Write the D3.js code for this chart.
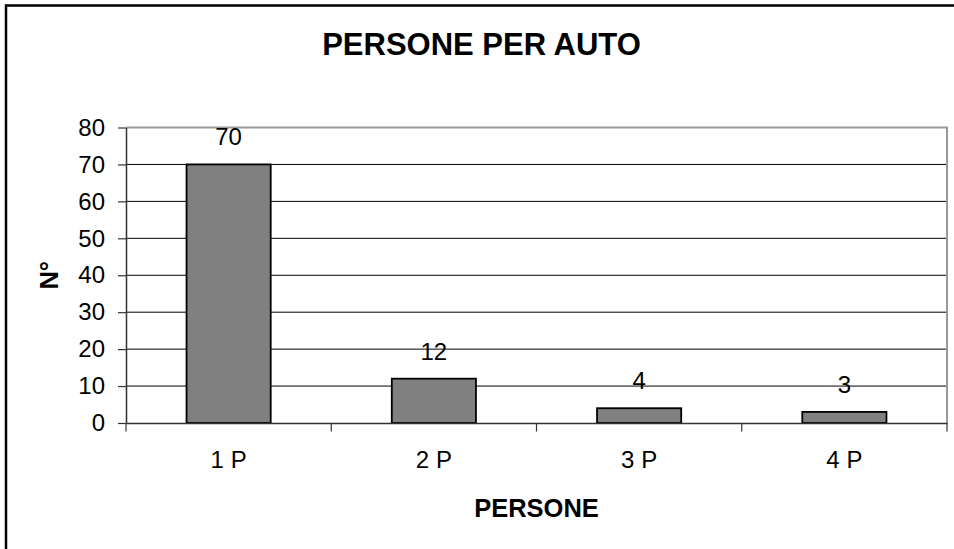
<!DOCTYPE html>
<html>
<head>
<meta charset="utf-8">
<script src="https://cdn.jsdelivr.net/npm/d3@7"></script>
<style>
    body { margin: 0; background: #fff; }
    svg { display: block; font-family: "Liberation Sans", Arial, sans-serif; }
    .tick text { font-size: 24px; fill: #000; }
</style>
</head>
<body>
<div id="chart"></div>
<script>
const categories = ["1 P", "2 P", "3 P", "4 P"];
const values = [70, 12, 4, 3];
const yTicks = [0, 10, 20, 30, 40, 50, 60, 70, 80];

const width = 954;
const height = 549;
const margin = { top: 127.5, right: 7, bottom: 126, left: 126 };

const svg = d3.select("#chart")
    .append("svg")
    .attr("width", width)
    .attr("height", height);

// outer frame (runs off the right and bottom edge)
svg.append("rect")
    .attr("x", 6)
    .attr("y", 5.5)
    .attr("width", 1200)
    .attr("height", 1200)
    .attr("fill", "#fff")
    .attr("stroke", "#000")
    .attr("stroke-width", 2.5);

const x = d3.scaleBand()
    .domain(categories)
    .range([margin.left, width - margin.right])
    .paddingInner(0.59)
    .paddingOuter(0.295);

const y = d3.scaleLinear()
    .domain([0, 80])
    .range([height - margin.bottom, margin.top]);

// gridlines
svg.append("g")
    .selectAll("line")
    .data(yTicks.filter(d => d > 0 && d < 80))
    .enter()
    .append("line")
    .attr("x1", x.range()[0])
    .attr("x2", x.range()[1])
    .attr("y1", d => y(d))
    .attr("y2", d => y(d))
    .attr("stroke", "#000")
    .attr("stroke-width", 1);

// plot frame top/right
svg.append("path")
    .attr("d", `M${x.range()[0]},${y(80)}H${x.range()[1]}V${y(0)}`)
    .attr("fill", "none")
    .attr("stroke", "#999")
    .attr("stroke-width", 2);

svg.selectAll(".bar")
    .data(values)
    .enter()
    .append("rect")
    .attr("class", "bar")
    .attr("x", (d, i) => x(categories[i]))
    .attr("y", d => y(d))
    .attr("width", x.bandwidth())
    .attr("height", d => y(0) - y(d))
    .attr("fill", "#808080")
    .attr("stroke", "#000")
    .attr("stroke-width", 1.8);

svg.selectAll(".value-label")
    .data(values)
    .enter()
    .append("text")
    .attr("class", "value-label")
    .attr("x", (d, i) => x(categories[i]) + x.bandwidth() / 2)
    .attr("y", d => y(d) - 19)
    .attr("text-anchor", "middle")
    .attr("font-size", 24)
    .text(d => d);

// y axis
const yAxis = svg.append("g")
    .attr("transform", `translate(${margin.left},0)`)
    .call(d3.axisLeft(y).tickValues(yTicks).tickSize(8).tickSizeOuter(0).tickPadding(13));
yAxis.select(".domain").attr("stroke", "#333").attr("stroke-width", 1.5);
yAxis.selectAll(".tick line").attr("stroke", "#333").attr("stroke-width", 1.2);

// x axis: labels under bars, ticks on category boundaries
const xAxis = svg.append("g")
    .attr("transform", `translate(0,${y(0)})`)
    .call(d3.axisBottom(x).tickSize(0).tickPadding(27.5));
xAxis.select(".domain").attr("stroke", "#333").attr("stroke-width", 1.5);

svg.append("g")
    .selectAll("line")
    .data(d3.range(categories.length + 1))
    .enter()
    .append("line")
    .attr("x1", i => x.range()[0] + i * x.step())
    .attr("x2", i => x.range()[0] + i * x.step())
    .attr("y1", y(0))
    .attr("y2", y(0) + 8.5)
    .attr("stroke", "#333")
    .attr("stroke-width", 1.2);

svg.append("text")
    .attr("x", (x.range()[0] + x.range()[1]) / 2 - 55)
    .attr("y", 55)
    .attr("text-anchor", "middle")
    .attr("font-size", 31)
    .attr("font-weight", "bold")
    .text("PERSONE PER AUTO");

svg.append("text")
    .attr("x", (x.range()[0] + x.range()[1]) / 2)
    .attr("y", 517)
    .attr("text-anchor", "middle")
    .attr("font-size", 25.5)
    .attr("font-weight", "bold")
    .text("PERSONE");

svg.append("text")
    .attr("transform", `translate(58,${y(40)}) rotate(-90)`)
    .attr("text-anchor", "middle")
    .attr("font-size", 25.5)
    .attr("font-weight", "bold")
    .text("N°");
</script>
</body>
</html>
